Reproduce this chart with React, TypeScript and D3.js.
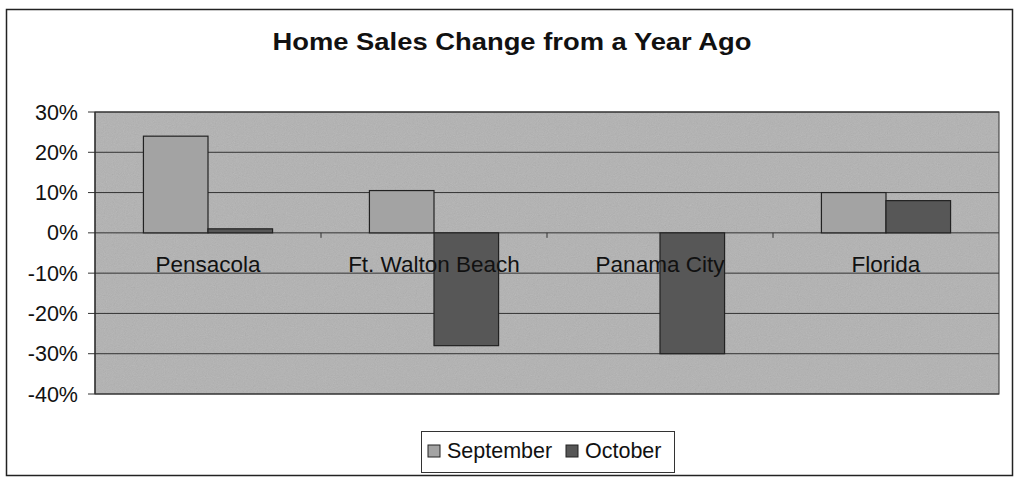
import React from 'react';
import * as d3 from 'd3';

const categories = ['Pensacola', 'Ft. Walton Beach', 'Panama City', 'Florida'];
const seriesNames = ['September', 'October'];
const september = [24, 10.5, 0, 10];
const october = [1, -28, -30, 8];
const yTicks = [30, 20, 10, 0, -10, -20, -30, -40];

const W = 1016, H = 480;
const plot = { left: 95, right: 999, top: 112, bottom: 394 };
const colors = ['#a3a3a3', '#575757'];
const font = 'Arial, "Liberation Sans", sans-serif';

const App = () => {
  const y = d3.scaleLinear().domain([-40, 30]).range([plot.bottom, plot.top]);
  const x0 = d3.scaleBand().domain(categories).range([plot.left, plot.right]).padding(0);
  const barW = x0.bandwidth() / 3.5;
  const x1 = d3.scaleBand().domain(seriesNames).range([-barW, barW]);
  const values = [september, october];

  return (
    <svg width={W} height={H} style={{ position: 'absolute', left: 0, top: 0 }}>
      <defs>
        <filter id="grain" x="0" y="0" width="100%" height="100%">
          <feTurbulence type="fractalNoise" baseFrequency="0.9" numOctaves="2" stitchTiles="stitch" />
          <feColorMatrix type="saturate" values="0" />
        </filter>
      </defs>
      <rect x={0} y={0} width={W} height={H} fill="#fff" />
      <rect x={6.5} y={9.5} width={1006} height={466} fill="#fff" stroke="#222" strokeWidth={1.5} />

      <text x={512} y={50} textAnchor="middle" fontFamily={font} fontWeight="bold" fontSize={24}
        textLength={479} lengthAdjust="spacingAndGlyphs" fill="#111">
        Home Sales Change from a Year Ago
      </text>

      {/* plot area */}
      <rect x={plot.left} y={plot.top} width={plot.right - plot.left} height={plot.bottom - plot.top} fill="#b2b2b2" />
      <rect x={plot.left} y={plot.top} width={plot.right - plot.left} height={plot.bottom - plot.top}
        filter="url(#grain)" opacity={0.22} />

      {yTicks.map(t => (
        <g key={t}>
          <line x1={plot.left} x2={plot.right} y1={y(t)} y2={y(t)} stroke="#333" strokeWidth={1} />
          <line x1={88} x2={plot.left} y1={y(t)} y2={y(t)} stroke="#333" strokeWidth={1} />
          <text x={78} y={y(t)} dy="0.35em" textAnchor="end" fontFamily={font} fontSize={21.5} fill="#111">
            {t + '%'}
          </text>
        </g>
      ))}

      {/* category ticks on the zero line */}
      {categories.slice(1).map(c => (
        <line key={c} x1={x0(c)} x2={x0(c)} y1={y(0)} y2={y(0) + 5} stroke="#333" />
      ))}

      {categories.map((c, i) => (
        <g key={c} transform={`translate(${x0(c)! + x0.bandwidth() / 2},0)`}>
          {seriesNames.map((s, j) => {
            const v = values[j][i];
            if (v === 0) return null;
            return (
              <rect key={s} x={x1(s)} width={barW}
                y={y(Math.max(0, v))} height={Math.abs(y(v) - y(0))}
                fill={colors[j]} stroke="#222" strokeWidth={1.2} />
            );
          })}
        </g>
      ))}

      {categories.map(c => (
        <text key={c} x={x0(c)! + x0.bandwidth() / 2} y={272} textAnchor="middle"
          fontFamily={font} fontSize={22.5} fill="#111">{c}</text>
      ))}

      <line x1={plot.left} x2={plot.left} y1={plot.top} y2={plot.bottom} stroke="#222" strokeWidth={1.2} />
      <rect x={plot.left} y={plot.top} width={plot.right - plot.left} height={plot.bottom - plot.top}
        fill="none" stroke="#333" strokeWidth={1} />

      {/* legend */}
      <rect x={421.5} y={431.5} width={253} height={41} fill="#fff" stroke="#333" strokeWidth={1} />
      {seriesNames.map((s, j) => {
        const lx = j === 0 ? 428 : 566;
        return (
          <g key={s}>
            <rect x={lx} y={445} width={12} height={12} fill={colors[j]} stroke="#222" />
            <text x={lx + 19} y={458} fontFamily={font} fontSize={21.5} fill="#111">{s}</text>
          </g>
        );
      })}
    </svg>
  );
};

export default App;
